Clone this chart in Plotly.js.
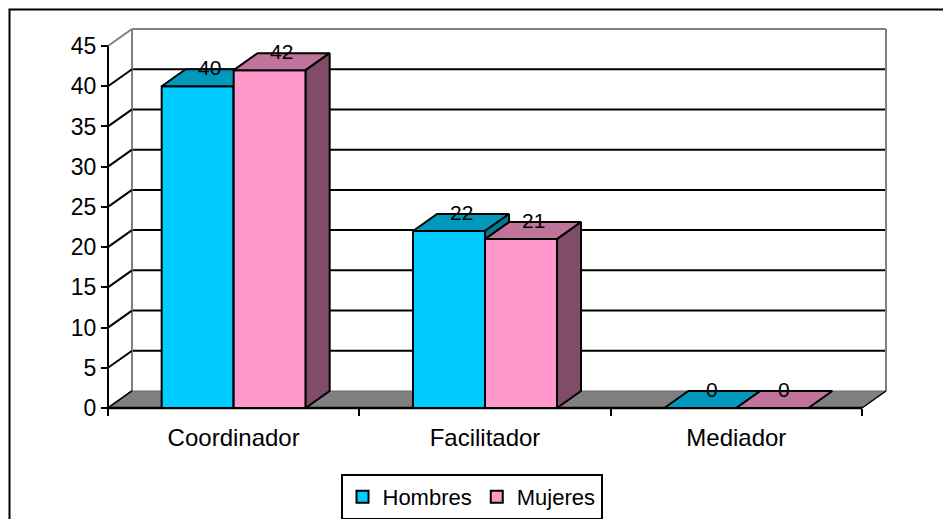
<!DOCTYPE html>
<html>
<head>
<meta charset="utf-8">
<script src="https://cdn.plot.ly/plotly-3.0.1.min.js"></script>
<style>html,body{margin:0;padding:0;background:#fff;overflow:hidden}#chart{width:943px;height:519px}</style>
</head>
<body>
<div id="chart"></div>
<script>
// ---- data ----
const categories = ['Coordinador', 'Facilitador', 'Mediador'];
const seriesNames = ['Hombres', 'Mujeres'];
const hombres = [40, 22, 0];
const mujeres = [42, 21, 0];
const yTicks = [0, 5, 10, 15, 20, 25, 30, 35, 40, 45];

// ---- styling / layout constants (pixels) ----
const W = 943, H = 519;
const FL = 108, FR = 862, Y0 = 408, YTOP = 46, DX = 24, DY = 17, PAD = 8, BARPX = 72;
const YMAX = 45;
const FONT = 'Liberation Sans, Arial, sans-serif';
const colors = {
  front: ['#00CCFF', '#FF99CC'],
  top: ['#0099BB', '#C0739B'],
  side: ['#007A96', '#7F4D68']
};

const n = categories.length;
const kx = (FR - FL) / n;
const ky = (Y0 - YTOP) / YMAX;
const pLeft = FL - PAD, pRight = FR + DX + PAD, pTop = YTOP - DY - PAD, pBottom = Y0 + PAD;
const plotW = pRight - pLeft, plotH = pBottom - pTop;
const xr = [-0.5 - PAD / kx, n - 0.5 + (DX + PAD) / kx];
const yr = [-PAD / ky, YMAX + (DY + PAD) / ky];
const dxu = DX / kx, dyu = DY / ky, bw = BARPX / kx;
const xL = -0.5, xR = n - 0.5;
const px = v => (v - pLeft) / plotW;
const py = v => (pBottom - v) / plotH;

// ---- walls / floor as shapes ----
const shapes = [];
const line = (x0, y0, x1, y1, color, width) => shapes.push({type: 'line', xref: 'x', yref: 'y', x0, y0, x1, y1, layer: 'below', line: {color, width}});
yTicks.forEach(t => {
  if (t > 0 && t < YMAX) line(xL + dxu, t + dyu, xR + dxu, t + dyu, '#000', 2);
});
line(xL + dxu, dyu, xL + dxu, YMAX + dyu, '#808080', 2);
line(xL + dxu, YMAX + dyu, xR + dxu, YMAX + dyu, '#808080', 2);
line(xR + dxu, dyu, xR + dxu, YMAX + dyu, '#808080', 2);
yTicks.forEach(t => {
  line(xL, t, xL + dxu, t + dyu, t === YMAX ? '#808080' : '#000', 2);
});
shapes.push({type: 'path', xref: 'x', yref: 'y', layer: 'below',
  path: `M${xL},0 L${xR},0 L${xR + dxu},${dyu} L${xL + dxu},${dyu} Z`,
  fillcolor: '#808080', line: {color: '#6a6a6a', width: 1}});
line(xR, 0, xR + dxu, dyu, '#000', 1.5);
line(xL, 0, xL + dxu, dyu, '#000', 1.5);
line(xL, 0, xR, 0, '#000', 2.5);
line(xL, 0, xL, YMAX, '#000', 2);
// outer frame
shapes.push({type: 'rect', xref: 'paper', yref: 'paper', x0: px(9.5), y0: py(560), x1: px(990), y1: py(9.5),
  line: {color: '#000', width: 2}, fillcolor: 'rgba(0,0,0,0)', layer: 'below'});

// ---- bars as polygons ----
const traces = [];
const poly = (xs, ys, fill) => traces.push({type: 'scatter', mode: 'lines', x: xs.concat([xs[0]]), y: ys.concat([ys[0]]),
  fill: 'toself', fillcolor: fill, line: {color: '#000', width: 2}, hoverinfo: 'skip', showlegend: false,
  xaxis: 'x', yaxis: 'y'});
const annotations = [];
const series = [hombres, mujeres];
categories.forEach((c, i) => {
  series.forEach((vals, s) => {
    const v = vals[i];
    const x0 = i - bw + s * bw, x1 = x0 + bw;
    if (v > 0) poly([x0, x1, x1, x0], [0, 0, v, v], colors.front[s]);
    poly([x0, x1, x1 + dxu, x0 + dxu], [v, v, v + dyu, v + dyu], colors.top[s]);
    if (v > 0) poly([x1, x1 + dxu, x1 + dxu, x1], [0, dyu, v + dyu, v], colors.side[s]);
    annotations.push({xref: 'x', yref: 'y', x: (x0 + x1) / 2 + dxu / 2, y: v + dyu, text: String(v),
      showarrow: false, yanchor: 'middle', xanchor: 'center', yshift: 2,
      font: {family: FONT, size: 21, color: '#000'}});
  });
});
// legend entries
seriesNames.forEach((nm, s) => traces.push({type: 'bar', name: nm, x: [null], y: [null],
  marker: {color: colors.front[s], line: {color: '#000', width: 2}}, xaxis: 'x', yaxis: 'y'}));

const layout = {
  width: W, height: H,
  margin: {l: pLeft, r: W - pRight, t: pTop, b: H - pBottom, pad: 0, autoexpand: false},
  paper_bgcolor: '#fff', plot_bgcolor: 'rgba(0,0,0,0)',
  showlegend: true,
  xaxis: {range: xr, anchor: 'free', position: py(Y0), showgrid: false, zeroline: false, showline: false,
    tickmode: 'array', tickvals: Array.from({length: n + 1}, (_, k) => k - 0.5), ticktext: Array(n + 1).fill(''),
    ticks: 'outside', ticklen: 7, tickwidth: 2, tickcolor: '#000', fixedrange: true},
  xaxis2: {range: xr, overlaying: 'x', anchor: 'free', position: py(Y0), side: 'bottom', showgrid: false, zeroline: false,
    showline: false, tickmode: 'array', tickvals: categories.map((_, k) => k), ticktext: categories,
    ticks: 'outside', ticklen: 8, tickcolor: 'rgba(0,0,0,0)', tickfont: {family: FONT, size: 24, color: '#000'}},
  yaxis: {range: yr, anchor: 'free', position: px(FL), showgrid: false, zeroline: false, showline: false,
    tickmode: 'array', tickvals: yTicks, ticktext: yTicks.map(String), ticks: 'outside', ticklen: 7, tickwidth: 2,
    tickcolor: '#000', tickfont: {family: FONT, size: 23, color: '#000'}},
  legend: {orientation: 'h', x: px(471.5), xanchor: 'center', y: py(474), yanchor: 'top',
    bordercolor: '#000', borderwidth: 2, bgcolor: '#fff', font: {family: FONT, size: 22, color: '#000'},
    itemwidth: 30, tracegroupgap: 0},
  shapes, annotations
};
// dummy trace on xaxis2 so the label axis is drawn
traces.push({type: 'scatter', mode: 'markers', x: [null], y: [null], xaxis: 'x2', yaxis: 'y', showlegend: false, hoverinfo: 'skip'});

Plotly.newPlot('chart', traces, layout, {staticPlot: true, displayModeBar: false});
</script>
</body>
</html>
